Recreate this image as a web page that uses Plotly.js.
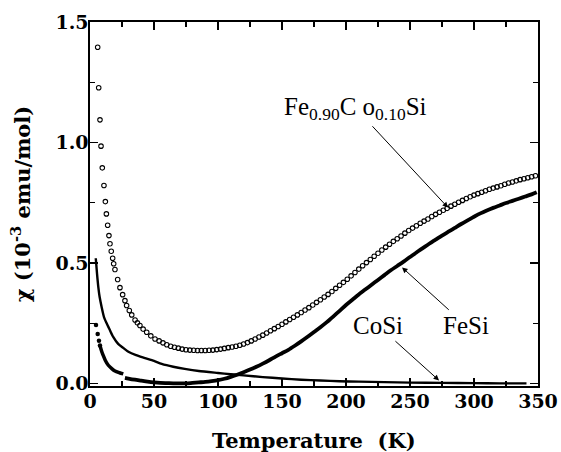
<!DOCTYPE html>
<html>
<head>
<meta charset="utf-8">
<script src="https://cdn.plot.ly/plotly-3.0.1.min.js"></script>
<style>html,body{margin:0;padding:0;background:#fff;}#chart{width:561px;height:452px;}</style>
</head>
<body>
<div id="chart"></div>
<script>
// Fe0.90Co0.10Si (open circles)
const tempFeCo = [6.0, 6.8, 7.8, 8.6, 9.6, 10.9, 12.0, 12.8, 13.8, 14.8, 15.6, 16.6, 17.7, 18.5, 19.5, 21.6, 23.4, 25.5, 27.3, 28.6, 30.7, 32.6, 35.2, 37, 39, 41.5, 44.3, 47.5, 50.8,
  54, 57, 60, 63, 66, 69, 72, 75, 78, 81, 84, 87, 90, 93, 96, 99, 102, 105, 108, 111, 114, 117, 120, 123, 126, 129, 132, 135, 138, 141, 144, 147, 150,
  153, 156, 159, 162, 165, 168, 171, 174, 177, 180, 183, 186, 189, 192, 195, 198, 201, 204, 207, 210, 213, 216, 219, 222, 225, 228, 231, 234, 237, 240,
  243, 246, 249, 252, 255, 258, 261, 264, 267, 270, 273, 276, 279, 282, 285, 288, 291, 294, 297, 300, 303, 306, 309, 312, 315, 318, 321, 324, 327, 330,
  333, 336, 339, 342, 345, 348];
const chiFeCo = [1.395, 1.227, 1.094, 0.985, 0.895, 0.822, 0.755, 0.704, 0.657, 0.614, 0.580, 0.549, 0.520, 0.497, 0.473, 0.432, 0.398, 0.369, 0.344, 0.324, 0.303, 0.285, 0.264, 0.252, 0.241, 0.226, 0.213, 0.198, 0.185,
  0.177, 0.169, 0.161, 0.155, 0.151, 0.147, 0.143, 0.1405, 0.139, 0.138, 0.137, 0.137, 0.137, 0.138, 0.139, 0.141, 0.143, 0.146, 0.149, 0.152, 0.155, 0.159, 0.164, 0.170, 0.177, 0.185, 0.193, 0.201, 0.210, 0.219, 0.228, 0.237, 0.246,
  0.256, 0.266, 0.275, 0.285, 0.295, 0.305, 0.315, 0.326, 0.337, 0.348, 0.359, 0.370, 0.382, 0.395, 0.408, 0.420, 0.433, 0.447, 0.461, 0.475, 0.489, 0.502, 0.515, 0.528, 0.541, 0.554, 0.566, 0.578, 0.590, 0.601,
  0.612, 0.624, 0.635, 0.645, 0.655, 0.665, 0.674, 0.683, 0.693, 0.702, 0.711, 0.719, 0.727, 0.736, 0.744, 0.752, 0.760, 0.768, 0.775, 0.782, 0.788, 0.794, 0.800, 0.806, 0.811, 0.816, 0.821, 0.827, 0.832, 0.836,
  0.841, 0.846, 0.850, 0.854, 0.858, 0.862];

// FeSi: lowest-temperature points, low-T segment, main curve
const tempFeSiDots = [4.7, 6.0, 7.0, 7.8];
const chiFeSiDots = [0.243, 0.206, 0.178, 0.158];
const tempFeSiLow = [7.8, 8.5, 9.5, 10.4, 12, 14.3, 17, 19.5, 23, 26];
const chiFeSiLow = [0.158, 0.145, 0.128, 0.116, 0.096, 0.076, 0.062, 0.052, 0.045, 0.040];
const tempFeSi = [27.3, 30, 35, 40, 45, 50, 55, 60, 65, 70, 75, 80, 85, 90, 95, 100, 105, 110, 115, 120, 125, 130, 135, 140, 145, 150, 155, 160, 165, 170, 175, 180, 185, 190, 195,
  200, 205, 210, 215, 220, 225, 230, 235, 240, 245, 250, 255, 260, 265, 270, 275, 280, 285, 290, 295, 300, 305, 310, 315, 320, 325, 330, 335, 340, 345, 349];
const chiFeSi = [0.024, 0.021, 0.016, 0.012, 0.008, 0.005, 0.003, 0.002, 0.001, 0.001, 0.001, 0.003, 0.005, 0.007, 0.010, 0.014, 0.020, 0.028, 0.037, 0.047, 0.058, 0.070, 0.083, 0.097, 0.112, 0.126, 0.140, 0.157, 0.175, 0.194, 0.214, 0.234, 0.255, 0.278, 0.302,
  0.326, 0.348, 0.370, 0.390, 0.410, 0.430, 0.450, 0.470, 0.488, 0.506, 0.525, 0.544, 0.562, 0.580, 0.597, 0.614, 0.630, 0.646, 0.662, 0.677, 0.692, 0.706, 0.718, 0.729, 0.739, 0.749, 0.758, 0.767, 0.776, 0.785, 0.794];

// CoSi (solid line)
const tempCoSi = [4.5, 5.5, 6.5, 7.5, 9, 11, 13, 15.5, 18, 22, 26, 30, 36, 43, 50, 56, 65, 74, 85, 100, 110, 120, 135, 150, 165, 180, 195, 210, 230, 250, 275, 300, 320, 341];
const chiCoSi = [0.52, 0.455, 0.40, 0.36, 0.32, 0.275, 0.25, 0.222, 0.195, 0.165, 0.148, 0.132, 0.118, 0.106, 0.094, 0.082, 0.070, 0.061, 0.052, 0.044, 0.039, 0.034, 0.027, 0.021, 0.016, 0.013, 0.010, 0.008, 0.006, 0.004, 0.003, 0.002, 0.001, 0.001];

const xTickVals = [0, 50, 100, 150, 200, 250, 300, 350];
const yTickVals = [0, 0.5, 1.0, 1.5];
const xTitle = 'Temperature  (K)';
const yTitle = 'χ (10<sup>-3</sup> emu/mol)';

// label texts, their centres and arrow tips (data units)
const labelTexts = ['Fe<sub>0.90</sub>C o<sub>0.10</sub>Si', 'FeSi', 'CoSi'];
const labelCentreT = [207.8, 293.8, 225.0];
const labelCentreChi = [1.141, 0.241, 0.241];
const arrowTipT = [279.7, 243.8, 272.7];
const arrowTipChi = [0.730, 0.482, 0.013];

const serif = 'DejaVu Serif';
const tickFont = {family: serif, size: 19, color: '#000', weight: 'bold'};
const titleFont = {family: serif, size: 21, color: '#000', weight: 'bold'};
const labelFont = {family: 'Liberation Serif', size: 25, color: '#000'};

const traces = [
  {x: tempCoSi, y: chiCoSi, mode: 'lines', line: {color: '#000', width: 2.4, shape: 'spline', smoothing: 0.6}, hoverinfo: 'skip'},
  {x: tempFeSiDots, y: chiFeSiDots, mode: 'markers', marker: {color: '#000', size: 4.5}, hoverinfo: 'skip'},
  {x: tempFeSiLow, y: chiFeSiLow, mode: 'lines', line: {color: '#000', width: 3.5, shape: 'spline', smoothing: 0.6}, hoverinfo: 'skip'},
  {x: tempFeSi, y: chiFeSi, mode: 'lines', line: {color: '#000', width: 3.8, shape: 'spline', smoothing: 0.8}, hoverinfo: 'skip'},
  {x: tempFeCo, y: chiFeCo, mode: 'markers', marker: {symbol: 'circle-open', color: '#000', size: 4.5, line: {width: 1.1, color: '#000'}}, hoverinfo: 'skip'}
];

const axisCommon = {
  showgrid: false, zeroline: false, showline: true, linecolor: '#000', linewidth: 1.6,
  ticks: 'inside', ticklen: 8, tickwidth: 1.3, tickcolor: '#000', mirror: 'ticks',
  tickfont: tickFont, fixedrange: true
};

const annotations = labelTexts.map((t, i) => ({
  x: arrowTipT[i], y: arrowTipChi[i], xref: 'x', yref: 'y',
  ax: labelCentreT[i], ay: labelCentreChi[i], axref: 'x', ayref: 'y',
  text: t, font: labelFont, showarrow: true,
  arrowhead: 2, arrowsize: 1.1, arrowwidth: 1, arrowcolor: '#000', standoff: 0, startstandoff: 1
}));
// x-axis title placed as a paper-anchored text
annotations.push({x: 0.5, y: -0.151, xref: 'paper', yref: 'paper', xanchor: 'center', yanchor: 'middle',
  showarrow: false, text: xTitle, font: titleFont, borderpad: 0});

const layout = {
  width: 561, height: 452,
  margin: {l: 90, r: 23, t: 22, b: 66},
  paper_bgcolor: '#fff', plot_bgcolor: '#fff',
  showlegend: false,
  xaxis: Object.assign({}, axisCommon, {
    range: [0, 350], tickvals: xTickVals, ticktext: xTickVals.map(String),
    ticklabelstandoff: -2,
    minor: {dtick: 25, tick0: 0, ticks: 'inside', ticklen: 5, tickwidth: 1.2, tickcolor: '#000'}
  }),
  yaxis: Object.assign({}, axisCommon, {
    range: [-0.01, 1.5], tickvals: yTickVals, ticktext: yTickVals.map(v => v.toFixed(1)),
    ticklabelstandoff: -4,
    minor: {dtick: 0.25, tick0: 0, ticks: 'inside', ticklen: 5, tickwidth: 1.2, tickcolor: '#000'},
    title: {text: yTitle, font: titleFont, standoff: 19}
  }),
  annotations: annotations
};

Plotly.newPlot('chart', traces, layout, {displayModeBar: false, staticPlot: true});
</script>
</body>
</html>
